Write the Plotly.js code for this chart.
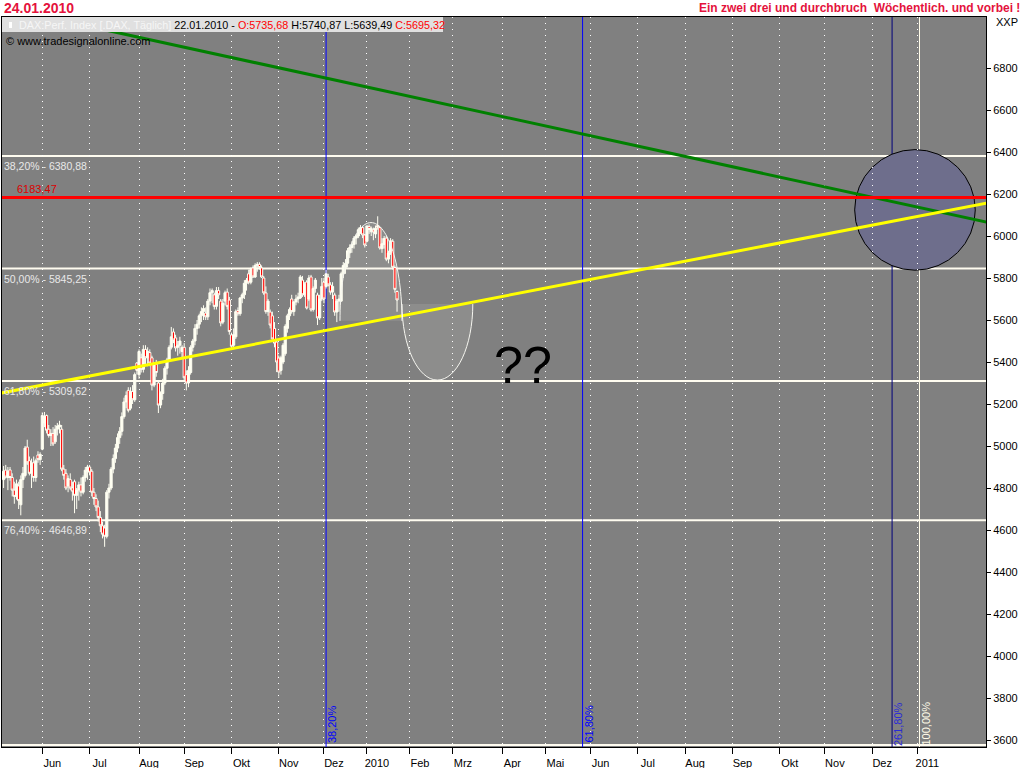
<!DOCTYPE html>
<html>
<head>
<meta charset="utf-8">
<script src="https://cdn.plot.ly/plotly-3.0.1.min.js"></script>
<style>html,body{margin:0;padding:0;background:#fff;}#chart{width:1024px;height:768px;}</style>
</head>
<body>
<div id="chart"></div>
<script>
// ---------- data ----------
const tickIdx = [18,40,63,84,106,128,149,169,189,209,232,252,273,295,317,339,361,382,404,425];
const tickText = ["Jun","Jul","Aug","Sep","Okt","Nov","Dez","2010","Feb","Mrz","Apr","Mai","Jun","Jul","Aug","Sep","Okt","Nov","Dez","2011"];
const yTicks = [3600,3800,4000,4200,4400,4600,4800,5000,5200,5400,5600,5800,6000,6200,6400,6600,6800];

const opens = [4840,4885,4850,4886,4850,4790,4760,4810,4720,4840,4860,4995,4930,4870,4920,4850,4957,4935,
4985,5110,5145,5080,5050,5060,5020,5080,5090,5080,4890,4870,4810,4840,4800,4830,4765,4790,4815,4780,4850,4880,
4900,4880,4780,4750,4710,4660,4620,4610,4570,4780,4800,4890,4940,4990,5040,5070,5140,5210,5265,5180,5260,5220,5395,
5340,5420,5365,5460,5420,5445,5420,5290,5390,5300,5195,5250,5300,5370,5410,5470,5543,5515,5470,5480,5450,
5470,5340,5300,5350,5470,5500,5560,5580,5620,5640,5633,5615,5690,5730,5720,5665,5740,5690,5590,5690,5733,5695,
5529,5480,5520,5645,5630,5705,5720,5775,5820,5780,5848,5805,5860,5865,5848,5800,5729,5640,5638,5620,5560,5495,
5419,5360,5400,5440,5560,5620,5700,5640,5686,5700,5705,5790,5720,5781,5700,5805,5650,5750,5719,5610,5700,
5780,5760,5805,5767,5733,5719,5638,5690,5690,5820,5850,5870,5920,5945,5960,5990,6000,6030,6040,6005,
5975,6045,6020,6030,6010,6050,6040,5940,5960,5990,5890,5920,5975,5850,5735.68];
const highs = [4905,4910,4900,4900,4870,4830,4840,4830,4860,4900,5000,5030,4950,4940,4950,4940,4975,4970,
5160,5162,5150,5100,5080,5090,5100,5110,5120,5100,4910,4890,4860,4870,4830,4840,4800,4830,4850,4860,4900,4910,
4910,4890,4800,4770,4740,4690,4640,4625,4790,4820,4900,4960,5010,5060,5090,5160,5230,5260,5280,5280,5290,5350,5400,
5460,5440,5480,5480,5470,5460,5430,5400,5410,5310,5260,5320,5380,5420,5480,5567,5560,5530,5500,5520,5480,
5490,5360,5380,5480,5510,5580,5600,5630,5660,5670,5660,5700,5750,5750,5730,5757,5757,5700,5700,5740,5750,5710,
5540,5560,5650,5660,5710,5730,5790,5800,5840,5850,5860,5870,5876,5875,5860,5810,5760,5700,5650,5640,5590,5510,
5430,5430,5490,5580,5630,5660,5720,5690,5720,5730,5814,5810,5780,5790,5814,5815,5760,5800,5730,5720,5800,
5800,5838,5820,5780,5780,5730,5700,5720,5830,5876,5890,5943,5960,5975,6000,6010,6040,6052,6048,6010,
6048,6055,6045,6040,6050,6094,6045,5990,6000,6000,5930,5990,5985,5860,5740.87];
const lows = [4800,4845,4790,4835,4760,4725,4745,4700,4670,4800,4850,4910,4860,4800,4830,4830,4920,4910,
4980,5090,5060,5040,5000,5000,5010,5050,5060,4880,4840,4790,4780,4790,4740,4680,4700,4740,4760,4770,4830,4840,
4860,4760,4720,4690,4640,4590,4560,4520,4560,4750,4790,4870,4920,4970,5010,5050,5130,5180,5160,5170,5200,5210,5340,
5320,5350,5350,5390,5380,5380,5265,5280,5330,5157,5180,5220,5290,5340,5400,5460,5490,5450,5430,5440,5420,
5310,5265,5280,5340,5450,5480,5530,5560,5590,5600,5600,5600,5670,5680,5650,5650,5700,5570,5580,5670,5650,5530,
5457,5470,5510,5620,5620,5680,5700,5740,5770,5770,5800,5800,5830,5840,5800,5720,5630,5620,5560,5500,5470,5352,
5324,5340,5390,5430,5540,5600,5630,5620,5670,5680,5700,5710,5710,5650,5690,5640,5640,5730,5576,5600,5690,
5680,5750,5760,5720,5700,5620,5590,5640,5686,5800,5820,5850,5895,5920,5940,5960,5990,6010,5990,5945,
5970,6010,6000,5980,5990,6030,5935,5920,5940,5880,5870,5910,5840,5730,5639.49];
const closes = [4880,4852,4880,4850,4790,4760,4820,4740,4840,4870,4990,4920,4870,4920,4850,4930,4935,4960,
5145,5140,5075,5050,5060,5010,5080,5095,5100,4890,4860,4800,4845,4800,4785,4765,4790,4815,4780,4850,4885,4900,
4875,4780,4750,4710,4660,4620,4580,4570,4780,4800,4890,4940,4990,5040,5070,5140,5210,5240,5170,5260,5220,5340,5360,
5450,5365,5460,5420,5450,5395,5290,5390,5350,5195,5250,5300,5370,5410,5470,5520,5505,5467,5480,5500,5470,
5325,5300,5360,5470,5500,5560,5580,5620,5640,5655,5615,5690,5730,5740,5665,5740,5720,5586,5680,5730,5665,5545,
5475,5530,5640,5630,5705,5720,5775,5790,5780,5840,5805,5860,5865,5850,5805,5729,5640,5690,5576,5510,5490,5400,
5352,5420,5480,5570,5620,5650,5640,5686,5700,5710,5805,5720,5770,5657,5800,5648,5750,5790,5610,5700,5760,
5700,5820,5767,5733,5760,5638,5690,5700,5820,5860,5870,5930,5945,5960,5990,6000,6030,6040,6005,5957,
6048,6031,6035,6019,6037,6041,5943,5963,5988,5890,5919,5977,5851,5746,5695.32];

// drawing-tool levels (chart values)
const fibLevels = [6380.88, 5845.25, 5309.62, 4646.89, 3575.65];
const fibLabels = ["38,20% - 6380,88", "50,00% - 5845,25", "61,80% - 5309,62", "76,40% - 4646,89", ""];
const redLevel = 6183.47;
const redLabel = "6183,47";
const greenTrendX = [-1, 458];
const greenTrendY = [7089, 6064];
const yellowTrendX = [-1, 458];
const yellowTrendY = [5252.6, 6158.2];
const timeFibIdx = [150, 269.3, 413.25, 426.0];
const timeFibLabels = ["38,20%", "61,80%", "261,80%", "100,00%"];
const timeFibColors = ["#0000ff", "#0000ff", "#00007a", "#fffbe8"];
const timeFibTextColors = ["#0000ff", "#0000ff", "#2a2ad8", "#fffbe8"];
// forecast sketch: [centre index, half width (index), base value, extreme value]
const upperArc = [170.88, 14.42, 5596, 6064];
const lowerArc = [201.77, 16.47, 5676, 5314];
const targetCircle = [423.9, 6124.3];   // centre (index, value)
const questionPos = [241.4, 5388];

// ---------- helpers ----------
const K = 0.5523;
function halfEllipse(a, close) {
  const [cx, rx, base, ext] = a;
  const h = ext - base;
  let p = `M${cx-rx},${base} C${cx-rx},${base+K*h} ${cx-K*rx},${base+h} ${cx},${base+h} ` +
          `C${cx+K*rx},${base+h} ${cx+rx},${base+K*h} ${cx+rx},${base}`;
  if (close) p += " Z";
  return p;
}
const pxY = v => (747 - v) / 730;     // paper y from pixel row
const pxX = v => (v - 2) / 984;       // paper x from pixel column

const dayIdx = closes.map((_, i) => i);

const traces = [
  {
    type: "candlestick", x: dayIdx, open: opens, high: highs, low: lows, close: closes,
    increasing: {line: {color: "#fffff2", width: 1}, fillcolor: "#fffff2"},
    decreasing: {line: {color: "#fffff2", width: 1}, fillcolor: "#ff0000"},
    whiskerwidth: 0, hoverinfo: "skip", showlegend: false
  },
  {type: "scatter", mode: "lines", x: greenTrendX, y: greenTrendY,
   line: {color: "#008000", width: 3}, hoverinfo: "skip"},
  {type: "scatter", mode: "lines", x: [-1, 458], y: [redLevel, redLevel],
   line: {color: "#ff0000", width: 3}, hoverinfo: "skip"},
  {type: "scatter", mode: "lines", x: yellowTrendX, y: yellowTrendY,
   line: {color: "#ffff00", width: 3}, hoverinfo: "skip"}
];

const shapes = [];
fibLevels.forEach(l => shapes.push({type: "line", xref: "paper", yref: "y", x0: 0, x1: 1, y0: l, y1: l,
  line: {color: "#fffcf0", width: 2}, layer: "below"}));
shapes.push({type: "path", xref: "x", yref: "y", path: halfEllipse(upperArc, true),
  fillcolor: "rgba(235,235,222,0.13)", line: {width: 0}, layer: "below"});
shapes.push({type: "path", xref: "x", yref: "y", path: halfEllipse(lowerArc, true),
  fillcolor: "rgba(235,235,222,0.13)", line: {width: 0}, layer: "below"});
shapes.push({type: "circle", xref: "x", yref: "y", xsizemode: "pixel", ysizemode: "pixel",
  xanchor: targetCircle[0], yanchor: targetCircle[1], x0: -60.3, x1: 60.3, y0: -60.3, y1: 60.3,
  fillcolor: "#6e6e8c", line: {color: "#000000", width: 1}, layer: "below"});
timeFibIdx.forEach((v, i) => shapes.push({type: "line", xref: "x", yref: "paper", x0: v, x1: v, y0: 0, y1: 1,
  line: {color: timeFibColors[i], width: 1}, layer: "below"}));
shapes.push({type: "path", xref: "x", yref: "y", path: halfEllipse(upperArc, false),
  fillcolor: "rgba(0,0,0,0)", line: {color: "#f6f6f0", width: 1}, layer: "above"});
shapes.push({type: "path", xref: "x", yref: "y", path: halfEllipse(lowerArc, false),
  fillcolor: "rgba(0,0,0,0)", line: {color: "#f6f6f0", width: 1}, layer: "above"});
// header band inside the plot
shapes.push({type: "rect", xref: "paper", yref: "paper", x0: 0, x1: pxX(443), y0: pxY(32), y1: 1,
  fillcolor: "#e0e0e0", line: {width: 0}, layer: "above"});
shapes.push({type: "rect", xref: "paper", yref: "paper", x0: pxX(9), x1: pxX(12), y0: pxY(28), y1: pxY(22),
  fillcolor: "#ffffff", line: {width: 0}, layer: "above"});

const F = "Liberation Sans, Arial, sans-serif";
const annotations = [];
annotations.push({xref: "paper", yref: "paper", x: pxX(2), y: pxY(8), xanchor: "left", yanchor: "middle",
  text: "<b>24.01.2010</b>", showarrow: false, font: {family: F, size: 14, color: "#e4123c"}});
annotations.push({xref: "paper", yref: "paper", x: pxX(1022), y: pxY(8), xanchor: "right", yanchor: "middle",
  text: "<b>Ein zwei drei und durchbruch \u00a0Wöchentlich. und vorbei !</b>", showarrow: false,
  font: {family: F, size: 12, color: "#e4123c"}});
annotations.push({xref: "paper", yref: "paper", x: pxX(17), y: pxY(25), xanchor: "left", yanchor: "middle",
  text: '<span style="color:#f6f6f6">DAX:Perf. Index [.DAX, Täglich]</span> 22.01.2010 - <span style="color:#ff0000">O:5735,68</span> H:5740,87 L:5639,49 <span style="color:#ff0000">C:5695,32</span>',
  showarrow: false, font: {family: F, size: 10.8, color: "#000000"}});
annotations.push({xref: "paper", yref: "paper", x: pxX(4), y: pxY(41), xanchor: "left", yanchor: "middle",
  text: "© www.tradesignalonline.com", showarrow: false, font: {family: F, size: 11, color: "#000000"}});
annotations.push({xref: "paper", yref: "paper", x: pxX(994), y: pxY(22), xanchor: "left", yanchor: "middle",
  text: "XXP", showarrow: false, font: {family: F, size: 11, color: "#000000"}});
fibLevels.forEach((l, i) => { if (fibLabels[i]) annotations.push({xref: "paper", yref: "y", x: 0, y: l,
  xanchor: "left", yanchor: "middle", yshift: -10, xshift: 0, text: fibLabels[i], showarrow: false,
  font: {family: F, size: 10.5, color: "#e8e8e8"}}); });
annotations.push({xref: "paper", yref: "y", x: pxX(15), y: redLevel, xanchor: "left", yanchor: "middle",
  yshift: 8, text: redLabel, showarrow: false, font: {family: F, size: 11, color: "#dd0000"}});
timeFibIdx.forEach((v, i) => annotations.push({xref: "x", yref: "paper", x: v, y: 0, xanchor: "center",
  yanchor: "middle", xshift: 6, yshift: 23, textangle: -90, text: timeFibLabels[i], showarrow: false,
  font: {family: F, size: 11, color: timeFibTextColors[i]}}));
annotations.push({xref: "x", yref: "y", x: questionPos[0], y: questionPos[1], xanchor: "center",
  yanchor: "middle", text: "??", showarrow: false, font: {family: F, size: 52, color: "#000000"}});

const layout = {
  width: 1024, height: 768,
  margin: {l: 2, r: 38, t: 17, b: 21, pad: 0},
  paper_bgcolor: "#ffffff", plot_bgcolor: "#808080",
  showlegend: false, hovermode: false, boxgap: 0, boxgroupgap: 0,
  font: {family: F, size: 11, color: "#000000"},
  xaxis: {
    range: [-0.74, 456.93], tickmode: "array", tickvals: tickIdx, ticktext: tickText,
    showgrid: true, gridcolor: "#ffffff", gridwidth: 1, griddash: "1px,5px",
    zeroline: false, showline: true, mirror: true, linecolor: "#000000", linewidth: 1,
    ticks: "outside", ticklen: 6, tickcolor: "#000000", ticklabelshift: 10,
    tickfont: {family: F, size: 11, color: "#000000"},
    rangeslider: {visible: false}, fixedrange: true
  },
  yaxis: {
    side: "right", range: [3566.7, 7042.9], tickmode: "array", tickvals: yTicks,
    ticktext: yTicks.map(String), showgrid: false, zeroline: false,
    showline: true, mirror: true, linecolor: "#000000", linewidth: 1,
    ticks: "outside", ticklen: 4, tickcolor: "#000000",
    tickfont: {family: F, size: 11, color: "#000000"}, fixedrange: true
  },
  shapes: shapes,
  annotations: annotations
};

Plotly.newPlot("chart", traces, layout, {staticPlot: true, displayModeBar: false});
</script>
</body>
</html>
